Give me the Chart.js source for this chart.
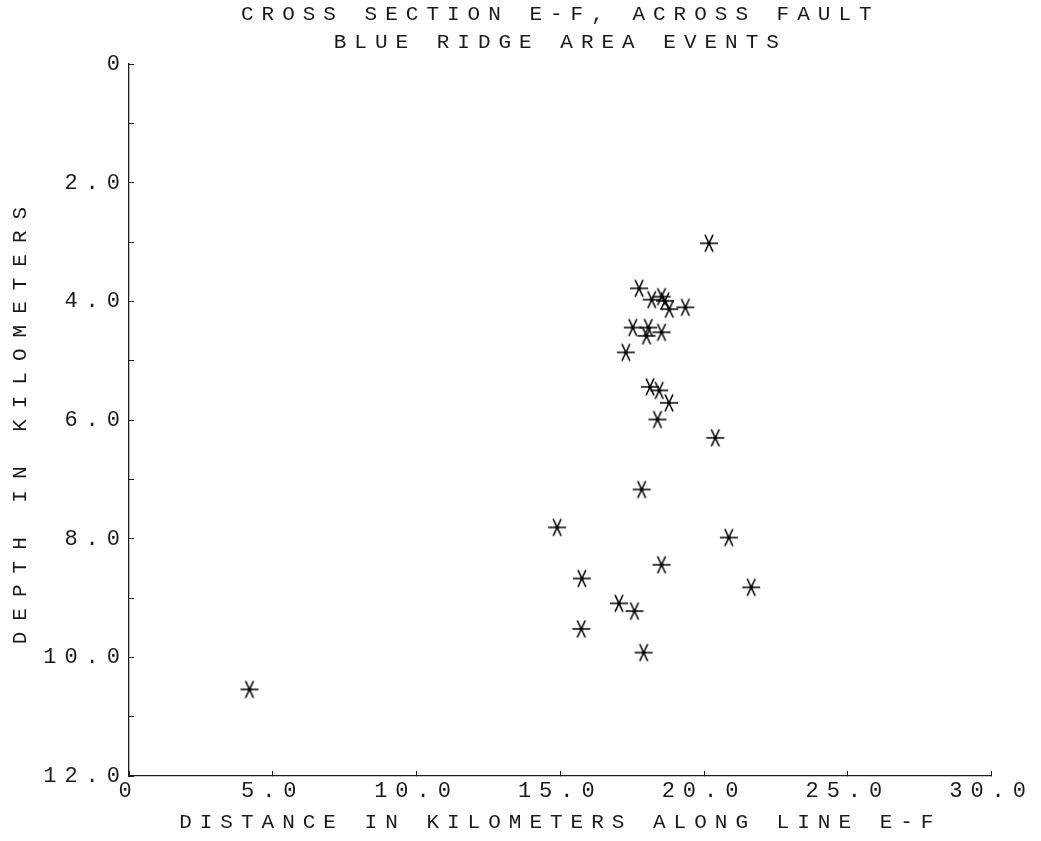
<!DOCTYPE html>
<html>
<head>
<meta charset="utf-8">
<script src="https://cdn.jsdelivr.net/npm/chart.js@4/dist/chart.umd.min.js"></script>
<style>
  html, body { margin: 0; padding: 0; background: #fff; }
  #wrap { width: 1041px; height: 841px; }
</style>
</head>
<body>
<div id="wrap"><canvas id="myChart"></canvas></div>
<script>
// distance along line E-F (km) and depth (km) for each event
const distanceKm = [4.19, 14.89, 15.75, 15.73, 17.04, 17.58, 17.90, 18.52, 17.83, 20.17,
  20.39, 20.86, 21.64, 17.28, 17.74, 18.18, 18.52, 18.64, 18.79, 19.35,
  17.52, 18.06, 18.00, 18.52, 18.12, 18.44, 18.78, 18.38];
const depthKm = [10.54, 7.81, 8.67, 9.52, 9.09, 9.22, 9.92, 8.44, 7.17, 3.02,
  6.30, 7.98, 8.82, 4.86, 3.78, 3.97, 3.92, 3.99, 4.13, 4.10,
  4.44, 4.44, 4.58, 4.52, 5.44, 5.50, 5.71, 5.99];

const xTickStep = 5;
const yTickStep = 1;
const yLabelEvery = 2;

const ink = '#1a1a1a';
const fontFamily = '"Liberation Mono", "DejaVu Sans Mono", monospace';
const spacing = '8px';
const yTitleSpacing = '11px';

// six-armed asterisk marker like the plotter symbol
function makeStar() {
  const c = document.createElement('canvas');
  c.width = 22; c.height = 22;
  const g = c.getContext('2d');
  g.strokeStyle = '#000';
  g.lineWidth = 1.6;
  g.beginPath();
  g.moveTo(2, 11); g.lineTo(20, 11);
  g.moveTo(7, 2.5); g.lineTo(15, 19.5);
  g.moveTo(15, 2.5); g.lineTo(7, 19.5);
  g.stroke();
  g.fillStyle = '#000';
  g.beginPath();
  g.arc(11, 11, 1.8, 0, Math.PI * 2);
  g.fill();
  return c;
}

const points = distanceKm.map((x, i) => ({ x: x, y: depthKm[i] }));

// spaced-out lettering of the old plotter
const letterSpacing = {
  id: 'letterSpacing',
  beforeUpdate(chart) { chart.ctx.letterSpacing = spacing; },
  afterLayout(chart) {
    const ys = chart.scales.y;
    if (ys && !ys._spaced) {
      const orig = ys.drawTitle.bind(ys);
      ys.drawTitle = function () {
        chart.ctx.letterSpacing = yTitleSpacing;
        orig();
        chart.ctx.letterSpacing = spacing;
      };
      ys._spaced = true;
    }
  },
  beforeDraw(chart) { chart.ctx.letterSpacing = spacing; }
};

const ctx = document.getElementById('myChart').getContext('2d');

const chart = new Chart(ctx, {
  type: 'scatter',
  data: {
    datasets: [{
      label: 'Events',
      data: points,
      pointStyle: makeStar(),
      pointRadius: 11,
      pointHoverRadius: 11
    }]
  },
  options: {
    responsive: true,
    maintainAspectRatio: false,
    animation: false,
    layout: { padding: { left: 0, right: 46, top: 0, bottom: 0 } },
    plugins: {
      legend: { display: false },
      tooltip: { enabled: false },
      title: {
        display: true,
        fullSize: false,
        text: ['CROSS SECTION E-F, ACROSS FAULT', 'BLUE RIDGE AREA EVENTS'],
        color: ink,
        font: { family: fontFamily, size: 21, weight: 'normal', lineHeight: 1.36 },
        padding: { top: 0, bottom: 7 }
      }
    },
    scales: {
      x: {
        type: 'linear',
        min: 0,
        max: 30,
        grid: { drawOnChartArea: false, tickLength: -5, color: ink },
        border: { color: ink, width: 1.3 },
        ticks: {
          stepSize: xTickStep,
          color: ink,
          padding: 7,
          font: { family: fontFamily, size: 22 },
          callback: v => v === 0 ? '0' : v.toFixed(1)
        },
        title: {
          display: true,
          text: 'DISTANCE IN KILOMETERS ALONG LINE E-F',
          color: ink,
          font: { family: fontFamily, size: 21 },
          padding: { top: 0, bottom: 6 }
        },
        afterFit: s => { s.height = 65; }
      },
      y: {
        type: 'linear',
        reverse: true,
        min: 0,
        max: 12,
        grid: { drawOnChartArea: false, tickLength: -5, color: ink },
        border: { color: ink, width: 1.3 },
        ticks: {
          stepSize: yTickStep,
          color: ink,
          padding: 6,
          font: { family: fontFamily, size: 22 },
          callback: v => v === 0 ? '0' : (v % yLabelEvery === 0 ? v.toFixed(1) : '')
        },
        title: {
          display: true,
          text: 'DEPTH IN KILOMETERS',
          color: ink,
          font: { family: fontFamily, size: 21 },
          padding: { top: 8, bottom: 0 }
        },
        afterFit: s => { s.width = 129; }
      }
    }
  },
  plugins: [letterSpacing]
});
</script>
</body>
</html>
